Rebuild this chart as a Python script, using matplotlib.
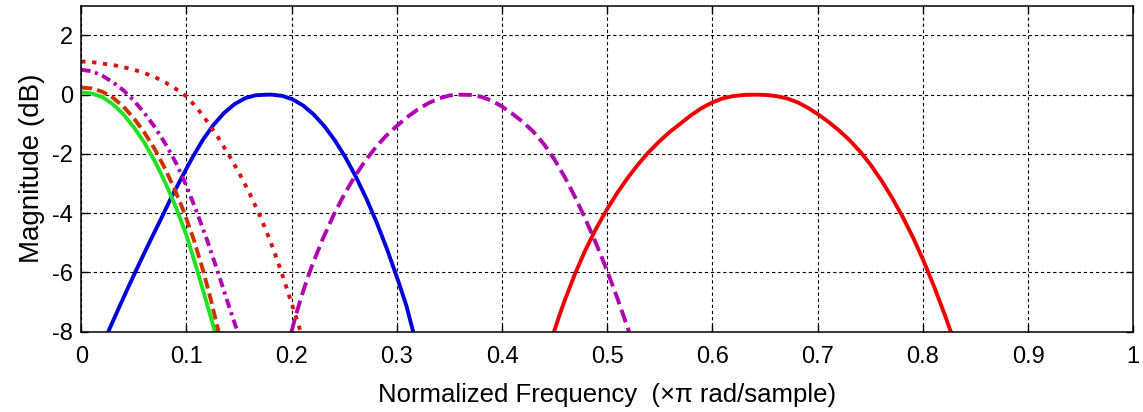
import matplotlib
matplotlib.use("Agg")
import matplotlib.pyplot as plt

plt.rcParams['font.family'] = ['Liberation Sans', 'DejaVu Sans']
plt.rcParams['axes.unicode_minus'] = False

# magnitude responses (x in units of pi rad/sample, y in dB)
green_x = [0.000, 0.010, 0.020, 0.030, 0.040, 0.050, 0.060, 0.070, 0.080, 0.090, 0.100, 0.110, 0.119, 0.127]
green_y = [0.08, 0.04, -0.08, -0.32, -0.66, -1.10, -1.62, -2.25, -2.98, -3.80, -4.75, -5.90, -7.00, -8.00]

brown_x = [0.000, 0.010, 0.020, 0.030, 0.040, 0.050, 0.060, 0.070, 0.080, 0.090, 0.0975, 0.107, 0.1159, 0.123, 0.1305]
brown_y = [0.24, 0.21, 0.10, -0.10, -0.40, -0.80, -1.28, -1.85, -2.52, -3.30, -3.95, -4.90, -5.95, -6.90, -8.00]

mdot_x = [0.000, 0.010, 0.020, 0.030, 0.040, 0.050, 0.060, 0.070, 0.080, 0.090, 0.100, 0.110, 0.120, 0.130, 0.140, 0.1485]
mdot_y = [0.84, 0.79, 0.64, 0.42, 0.15, -0.20, -0.62, -1.10, -1.66, -2.30, -3.08, -3.98, -4.95, -6.00, -7.10, -8.00]

rdot_x = [0.000, 0.010, 0.020, 0.030, 0.040, 0.050, 0.060, 0.070, 0.080, 0.090, 0.100, 0.110, 0.120,
          0.130, 0.140, 0.150, 0.160, 0.170, 0.180, 0.190, 0.200, 0.2085]
rdot_y = [1.12, 1.10, 1.05, 1.00, 0.93, 0.84, 0.73, 0.59, 0.41, 0.19, -0.06, -0.45, -0.92,
          -1.44, -2.02, -2.64, -3.33, -4.10, -4.97, -5.96, -7.05, -8.00]

blue_x = [0.0257, 0.0357, 0.0457, 0.0557, 0.0657, 0.0757, 0.0857, 0.0957, 0.1057, 0.1157, 0.1257, 0.1357,
          0.1457, 0.1557, 0.1657, 0.177, 0.181, 0.191, 0.201, 0.211, 0.221, 0.231, 0.241, 0.251, 0.261,
          0.271, 0.281, 0.291, 0.301, 0.309, 0.3155]
blue_y = [-8.00, -7.20, -6.42, -5.66, -4.92, -4.20, -3.46, -2.78, -2.12, -1.52, -1.02, -0.62,
          -0.32, -0.12, -0.02, 0.00, 0.00, -0.04, -0.16, -0.37, -0.67, -1.06, -1.54, -2.11, -2.77,
          -3.51, -4.33, -5.25, -6.26, -7.12, -8.00]

mdash_x = [0.1998, 0.2048, 0.2098, 0.2148, 0.2198, 0.2298, 0.2398, 0.2498, 0.2598, 0.2698, 0.2798, 0.2898,
           0.2998, 0.3098, 0.3198, 0.3298, 0.3398, 0.3498, 0.360, 0.370, 0.380, 0.390, 0.400, 0.410,
           0.420, 0.430, 0.440, 0.450, 0.460, 0.470, 0.480, 0.490, 0.500, 0.510, 0.520, 0.5207]
mdash_y = [-8.00, -7.35, -6.76, -6.22, -5.73, -4.85, -4.07, -3.38, -2.77, -2.24, -1.78, -1.39,
           -1.06, -0.76, -0.50, -0.29, -0.13, -0.03, 0.00, -0.01, -0.07, -0.20, -0.40, -0.65,
           -0.93, -1.26, -1.68, -2.20, -2.81, -3.50, -4.26, -5.08, -5.96, -6.91, -7.93, -8.00]

red_x = [0.4494, 0.4544, 0.4594, 0.4694, 0.4794, 0.4894, 0.4994, 0.5094, 0.5194, 0.5294, 0.5394, 0.5494,
         0.5594, 0.5694, 0.5794, 0.5894, 0.5994, 0.6094, 0.6194, 0.6294, 0.641, 0.651, 0.661, 0.671,
         0.681, 0.691, 0.701, 0.711, 0.721, 0.731, 0.741, 0.751, 0.761, 0.771, 0.781, 0.791, 0.801,
         0.811, 0.821, 0.8265]
red_y = [-8.00, -7.46, -6.96, -6.04, -5.23, -4.52, -3.89, -3.32, -2.81, -2.35, -1.94, -1.58,
         -1.26, -0.98, -0.70, -0.46, -0.27, -0.13, -0.05, -0.01, 0.00, -0.01, -0.05, -0.13,
         -0.26, -0.45, -0.68, -0.94, -1.23, -1.56, -1.95, -2.40, -2.92, -3.50, -4.14, -4.85, -5.64,
         -6.51, -7.45, -8.00]

xticks = [0, 0.1, 0.2, 0.3, 0.4, 0.5, 0.6, 0.7, 0.8, 0.9, 1]
xticklabels = ['0', '0.1', '0.2', '0.3', '0.4', '0.5', '0.6', '0.7', '0.8', '0.9', '1']
yticks = [-8, -6, -4, -2, 0, 2]

fig = plt.figure(figsize=(11.43, 4.12), dpi=100)
ax = fig.add_axes([0.0711, 0.195, 0.9204, 0.791])

lw = 2.8
ax.plot(red_x, red_y, color='#ee0000', lw=lw)
ax.plot(blue_x, blue_y, color='#0000dd', lw=lw)
ax.plot(mdash_x, mdash_y, color='#b000b0', lw=lw, dashes=(3.4, 1.5))
ax.plot(green_x, green_y, color='#22e022', lw=lw)
ax.plot(brown_x, brown_y, color='#cc3300', lw=lw, dashes=(2.8, 1.3))
ax.plot(mdot_x, mdot_y, color='#b000b0', lw=lw, dashes=(2.4, 1.2, 0.8, 1.2))
ax.plot(rdot_x, rdot_y, color='#dd1111', lw=lw, dashes=(1.1, 1.7))

ax.set_xlim(0, 1)
ax.set_ylim(-8, 3)
ax.set_xticks(xticks)
ax.set_xticklabels(xticklabels)
ax.set_yticks(yticks)
ax.grid(True, color='black', lw=0.8, dashes=(3, 2.5))
ax.tick_params(direction='in', length=5, top=True, right=True, labelsize=17, width=1)
ax.tick_params(axis='x', pad=10)
ax.tick_params(axis='y', pad=6)
for s in ax.spines.values():
    s.set_linewidth(1.1)

ax.set_xlabel('Normalized Frequency  (\u00d7\u03c0 rad/sample)', fontsize=18.5, labelpad=11)
ax.set_ylabel('Magnitude (dB)', fontsize=20, labelpad=5)

fig.savefig('out.png', dpi=100)
